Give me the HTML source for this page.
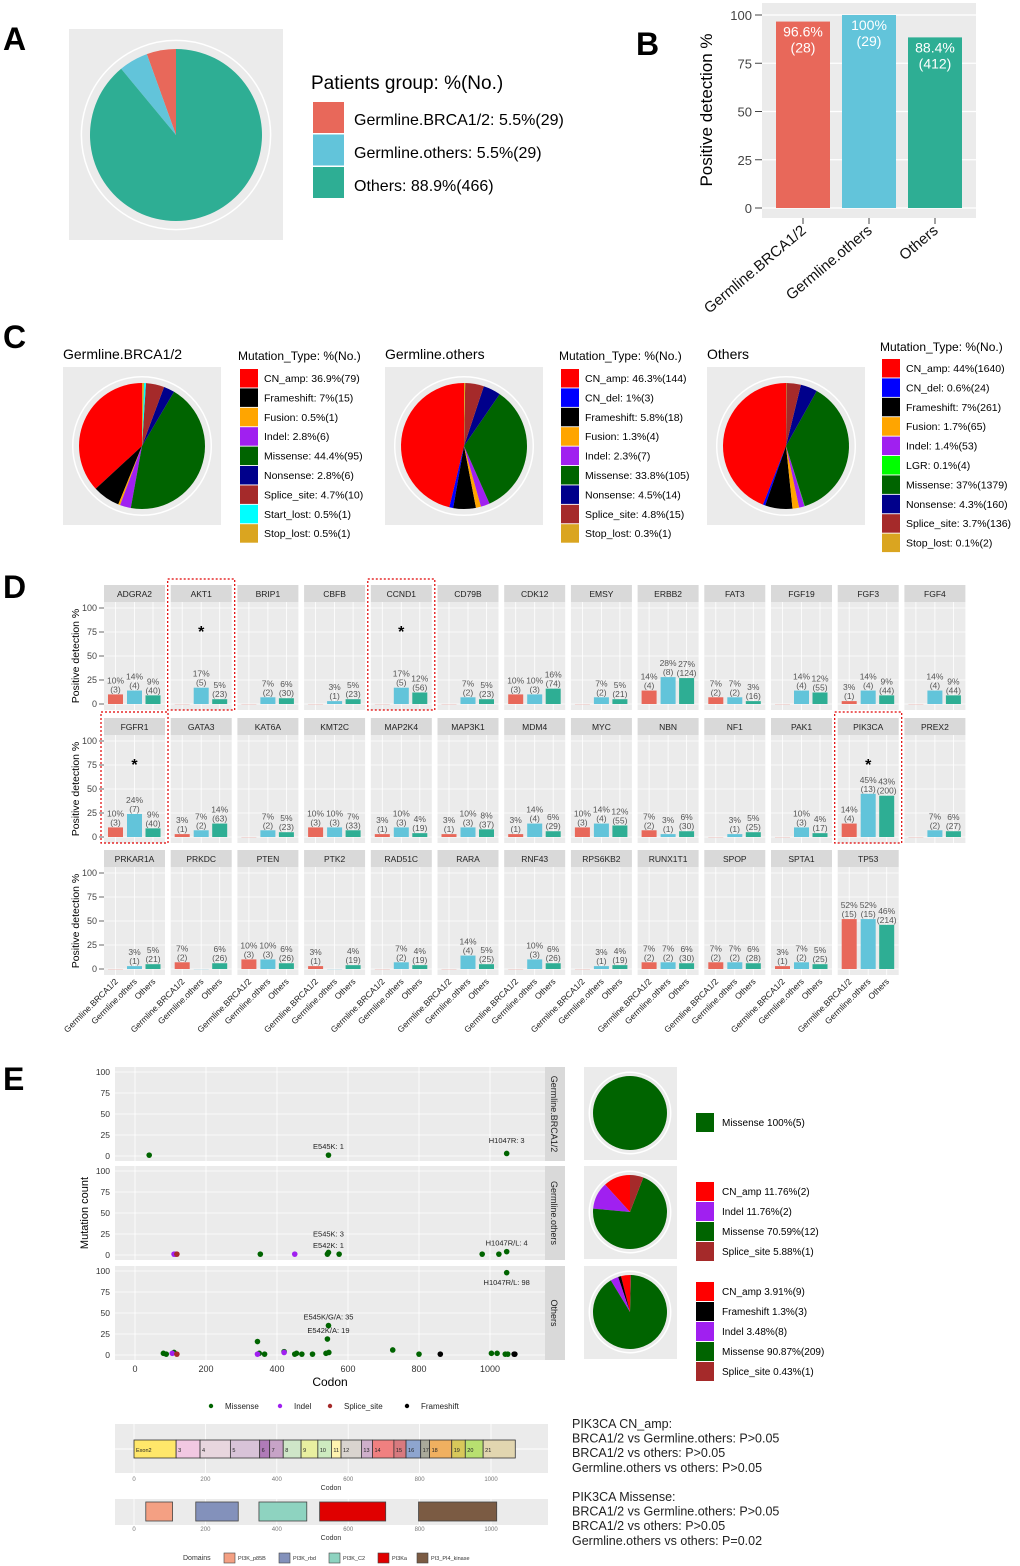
<!DOCTYPE html>
<html><head><meta charset="utf-8"><style>
html,body{margin:0;padding:0;background:#fff}
svg{display:block;font-family:"Liberation Sans",sans-serif}
</style></head><body>
<svg id="fig" width="1020" height="1566" viewBox="0 0 1020 1566" xmlns="http://www.w3.org/2000/svg"></svg>
<script>
// ---------- DATA ----------
const groupNames=["Germline.BRCA1/2","Germline.others","Others"];
const groupColors=["#E8685A","#62C4DA","#2EAE94"];
const pieAValues=[5.5,5.5,88.9];
const pieALabels=["Germline.BRCA1/2: 5.5%(29)","Germline.others: 5.5%(29)","Others: 88.9%(466)"];
const barBValues=[96.6,100,88.4];
const barBCounts=["(28)","(29)","(412)"];
const yTicks=[0,25,50,75,100];
const mutColors={CN_amp:"#FF0000",CN_del:"#0000FF",Frameshift:"#000000",Fusion:"#FFA500",Indel:"#A020F0",LGR:"#00FF00",Missense:"#006400",Nonsense:"#00008B",Splice_site:"#A52A2A",Start_lost:"#00FFFF",Stop_lost:"#DAA520"};
const c1Types=["CN_amp","Frameshift","Fusion","Indel","Missense","Nonsense","Splice_site","Start_lost","Stop_lost"];
const c1Values=[36.9,7,0.5,2.8,44.4,2.8,4.7,0.5,0.5];
const c1Counts=[79,15,1,6,95,6,10,1,1];
const c2Types=["CN_amp","CN_del","Frameshift","Fusion","Indel","Missense","Nonsense","Splice_site","Stop_lost"];
const c2Values=[46.3,1,5.8,1.3,2.3,33.8,4.5,4.8,0.3];
const c2Counts=[144,3,18,4,7,105,14,15,1];
const c3Types=["CN_amp","CN_del","Frameshift","Fusion","Indel","LGR","Missense","Nonsense","Splice_site","Stop_lost"];
const c3Values=[44,0.6,7,1.7,1.4,0.1,37,4.3,3.7,0.1];
const c3Counts=[1640,24,261,65,53,4,1379,160,136,2];
const dGenes=[["ADGRA2","AKT1","BRIP1","CBFB","CCND1","CD79B","CDK12","EMSY","ERBB2","FAT3","FGF19","FGF3","FGF4"],
["FGFR1","GATA3","KAT6A","KMT2C","MAP2K4","MAP3K1","MDM4","MYC","NBN","NF1","PAK1","PIK3CA","PREX2"],
["PRKAR1A","PRKDC","PTEN","PTK2","RAD51C","RARA","RNF43","RPS6KB2","RUNX1T1","SPOP","SPTA1","TP53"]];
const dPct=[[[10,14,9],[0,17,5],[0,7,6],[0,3,5],[0,17,12],[0,7,5],[10,10,16],[0,7,5],[14,28,27],[7,7,3],[0,14,12],[3,14,9],[0,14,9]],
[[10,24,9],[3,7,14],[0,7,5],[10,10,7],[3,10,4],[3,10,8],[3,14,6],[10,14,12],[7,3,6],[0,3,5],[0,10,4],[14,45,43],[0,7,6]],
[[0,3,5],[7,0,6],[10,10,6],[3,0,4],[0,7,4],[0,14,5],[0,10,6],[0,3,4],[7,7,6],[7,7,6],[3,7,5],[52,52,46]]];
const dCnt=[[[3,4,40],[0,5,23],[0,2,30],[0,1,23],[0,5,56],[0,2,23],[3,3,74],[0,2,21],[4,8,124],[2,2,16],[0,4,55],[1,4,44],[0,4,44]],
[[3,7,40],[1,2,63],[0,2,23],[3,3,33],[1,3,19],[1,3,37],[1,4,29],[3,4,55],[2,1,30],[0,1,25],[0,3,17],[4,13,200],[0,2,27]],
[[0,1,21],[2,0,26],[3,3,26],[1,0,19],[0,2,19],[0,4,25],[0,3,26],[0,1,19],[2,2,30],[2,2,28],[1,2,25],[15,15,214]]];
const dHighlight=[[0,1],[0,4],[1,0],[1,11]];
const eFacets=["Germline.BRCA1/2","Germline.others","Others"];
const eCodon=[[40,545,1047],
[110,113,118,353,450,542,545,575,978,1025,1047],
[80,88,110,345,350,365,420,450,455,470,500,538,542,545,546,726,800,1004,1020,1043,1047,1050,105,345,420,118,860,1068,1070]];
const eCount=[[1,1,3],
[1,1,1,1,1,1,3,1,1,1,4],
[2,1,3,16,2,1,4,1,2,1,1,2,19,35,3,6,1,2,2,1,98,1,2,1,3,1,1,1,1]];
const eType=[["Missense","Missense","Missense"],
["Indel","Indel","Splice_site","Missense","Indel","Missense","Missense","Missense","Missense","Missense","Missense"],
["Missense","Missense","Missense","Missense","Missense","Missense","Missense","Missense","Missense","Missense","Missense","Missense","Missense","Missense","Missense","Missense","Missense","Missense","Missense","Missense","Missense","Missense","Indel","Indel","Indel","Splice_site","Frameshift","Frameshift","Frameshift"]];
const eLabels=[[["E545K: 1",545,1,0]],[["E545K: 3",545,3,1],["E542K: 1",545,1,0],["H1047R/L: 4",1047,4,0]],[["E545K/G/A: 35",545,35,0],["E542K/A: 19",545,19,0]]];
const eLabelsExtra=[["H1047R: 3",1047,3],["H1047R/L: 98",1047,98]];
const ePieTypes=[["Missense"],["CN_amp","Indel","Missense","Splice_site"],["CN_amp","Frameshift","Indel","Missense","Splice_site"]];
const ePieValues=[[100],[11.76,11.76,70.59,5.88],[3.91,1.3,3.48,90.87,0.43]];
const ePieCounts=[[5],[2,2,12,1],[9,3,8,209,1]];
const exonNames=["Exon2","3","4","5","6","7","8","9","10","11","12","13","14","15","16","17","18","19","20","21"];
const exonStarts=[0,118,185,270,352,380,418,468,515,553,580,637,668,728,762,803,828,890,928,978];
const exonEnds=[118,185,270,352,380,418,468,515,553,580,637,668,728,762,803,828,890,928,978,1068];
const exonColors=["#FFE76A","#F2C8E2","#E8D6DE","#D8C3D8","#B07BB8","#C7A3C7","#CFE6C8","#E8F0A0","#CDEBC0","#FFF3B0","#D9D4CF","#CFAFCB","#F08080","#D87A7F","#8EA5CF","#A9A99A","#F0B060","#D8C85A","#B8E070","#E2D6B0"];
const domNames=["PI3K_p85B","PI3K_rbd","PI3K_C2","PI3Ka","PI3_PI4_kinase"];
const domStarts=[33,173,350,520,797];
const domEnds=[108,292,484,705,1016];
const domColors=["#F4A083","#8391BB","#8ED3C0","#E00000","#7B5B43"];
const codonTicks=[0,200,400,600,800,1000];

// ---------- HELPERS ----------
const NS="http://www.w3.org/2000/svg";
const svg=document.getElementById("fig");
function mk(tag,attrs,name,parent,text){
  const el=document.createElementNS(NS,tag);
  for(const k in attrs) el.setAttribute(k,attrs[k]);
  
  
  if(text!==undefined) el.textContent=text;
  (parent||svg).appendChild(el);
  return el;
}
function T(x,y,s,size,name,extra){
  const a=Object.assign({x:x,y:y,"font-size":size,fill:"#000"},extra||{});
  return mk("text",a,name,null,s);
}
function pie(cx,cy,r,vals,cols,name){
  const tot=vals.reduce((a,b)=>a+b,0);
  let acc=0;
  vals.forEach((v,i)=>{
    const a0=acc/tot*2*Math.PI; acc+=v; const a1=acc/tot*2*Math.PI;
    const x0=cx-r*Math.sin(a0),y0=cy-r*Math.cos(a0),x1=cx-r*Math.sin(a1),y1=cy-r*Math.cos(a1);
    const large=(a1-a0)>Math.PI?1:0;
    let d;
    if(v/tot>0.9999) d=`M${cx-r},${cy}a${r},${r} 0 1,0 ${2*r},0a${r},${r} 0 1,0 ${-2*r},0`;
    else d=`M${cx},${cy}L${x0},${y0}A${r},${r} 0 ${large},0 ${x1},${y1}Z`;
    mk("path",{d:d,fill:cols[i]},name+"-slice-"+i);
  });
}
function pieBg(x,y,w,h,cx,cy,r,name){
  mk("rect",{x:x,y:y,width:w,height:h,fill:"#EBEBEB"},name+"-background");
  mk("circle",{cx:cx,cy:cy,r:r*1.1,fill:"none",stroke:"#fff","stroke-width":1.5},name+"-outer-ring");
}

// ---------- PANEL A ----------
T(3,50,"A",32,"panel-a-label",{"font-weight":"bold"});
pieBg(69,29,214,211,176,135,86,"pie-a");
pie(176,135,86,pieAValues,groupColors,"pie-a");
T(311,89,"Patients group: %(No.)",19,"pie-a-legend-title");
pieALabels.forEach((l,i)=>{
  mk("rect",{x:313,y:102+i*32.5,width:31,height:31,fill:groupColors[i]},"pie-a-legend-key");
  T(354,125+i*33,l,16,"pie-a-legend-entry");
});

// ---------- PANEL B ----------
T(636,55,"B",32,"panel-b-label",{"font-weight":"bold"});
{
 const px0=762,px1=976,py0=3,py1=218,yb=208,yt=15;
 const yS=v=>yb-(yb-yt)*v/100;
 mk("rect",{x:px0,y:py0,width:px1-px0,height:py1-py0,fill:"#EBEBEB"},"bar-b-background");
 yTicks.forEach(t=>{mk("line",{x1:px0,x2:px1,y1:yS(t),y2:yS(t),stroke:"#fff","stroke-width":1.2},"bar-b-gridline");
   T(752,yS(t)+5,String(t),13,"bar-b-y-tick",{"text-anchor":"end",fill:"#444"});
   mk("line",{x1:755,x2:762,y1:yS(t),y2:yS(t),stroke:"#444"},"bar-b-y-tickmark");});
 const cx=[803,869,935];
 barBValues.forEach((v,i)=>{
  mk("rect",{x:cx[i]-27,y:yS(v),width:54,height:yb-yS(v),fill:groupColors[i]},"bar-b-"+i);
  T(cx[i],yS(v)+15,(v===100?"100":v)+"%",14,"bar-b-value",{"text-anchor":"middle",fill:"#fff"});
  T(cx[i],yS(v)+31,barBCounts[i],14,"bar-b-count",{"text-anchor":"middle",fill:"#fff"});
  mk("line",{x1:cx[i],x2:cx[i],y1:218,y2:224,stroke:"#444"},"bar-b-x-tickmark");
  T(cx[i]+4,232,groupNames[i],15,"bar-b-x-label",{"text-anchor":"end",transform:`rotate(-40 ${cx[i]+4} 232)`,fill:"#111"});
 });
 T(0,0,"Positive detection %",17,"bar-b-y-title",{"text-anchor":"middle",transform:"translate(712,110) rotate(-90)"});
}

// ---------- PANEL C ----------
T(3,348,"C",32,"panel-c-label",{"font-weight":"bold"});
const cSets=[[c1Types,c1Values,c1Counts,63,238,356,378],[c2Types,c2Values,c2Counts,385,559,356,378],[c3Types,c3Values,c3Counts,707,880,347,368]];
cSets.forEach((s,g)=>{
 const [types,vals,cnts,bx,lx,ty,ry]=s;
 T(bx,359,groupNames[g]==="Others"?"Others":groupNames[g],14,"pie-c-title");
 pieBg(bx,367,158,158,bx+79,446,63,"pie-c"+g);
 pie(bx+79,446,63,vals,types.map(t=>mutColors[t]),"pie-c"+g);
 T(lx,ty+4,"Mutation_Type: %(No.)",12,"pie-c-legend-title");
 types.forEach((t,i)=>{
  mk("rect",{x:lx+2,y:ry-9+i*19.4,width:18,height:18.5,fill:mutColors[t]},"pie-c-legend-key");
  T(lx+26,ry+4+i*19.4,`${t}: ${vals[i]}%(${cnts[i]})`,10.5,"pie-c-legend-entry");
 });
});

// ---------- PANEL D ----------
T(3,598,"D",32,"panel-d-label",{"font-weight":"bold"});
{
 const colX=c=>104+c*66.7, pw=61;
 const rowTop=[585,718,850];
 dGenes.forEach((genes,r)=>{
  const st=rowTop[r], p0=st+17, p1=p0+108, y0=p1-6, y100=p0+6;
  const yS=v=>y0-(y0-y100)*v/100;
  yTicks.forEach(t=>{T(97,yS(t)+3,String(t),9,"d-y-tick",{"text-anchor":"end",fill:"#444"});
    mk("line",{x1:99,x2:104,y1:yS(t),y2:yS(t),stroke:"#444","stroke-width":0.8},"d-y-tickmark");});
  T(0,0,"Positive detection %",10.5,"d-y-title",{"text-anchor":"middle",transform:`translate(79,${(p0+p1)/2}) rotate(-90)`});
  genes.forEach((g,c)=>{
   const x=colX(c);
   mk("rect",{x:x,y:st,width:pw,height:17,fill:"#D9D9D9"},"d-strip");
   T(x+pw/2,st+12,g,8.5,"d-strip-label",{"text-anchor":"middle",fill:"#222"});
   mk("rect",{x:x,y:p0,width:pw,height:p1-p0,fill:"#EBEBEB"},"d-panel-bg");
   yTicks.forEach(t=>mk("line",{x1:x,x2:x+pw,y1:yS(t),y2:yS(t),stroke:"#fff","stroke-width":0.8},"d-gridline"));
   [11.5,30.5,49].forEach(o=>mk("line",{x1:x+o,x2:x+o,y1:p0,y2:p1,stroke:"#fff","stroke-width":0.8},"d-gridline-v"));
   dPct[r][c].forEach((v,k)=>{
    const bx=x+[11.5,30.5,49][k];
    mk("rect",{x:bx-7.5,y:yS(v),width:15,height:Math.max(y0-yS(v),0.6),fill:groupColors[k],opacity:v===0?0.3:1},"d-bar");
    if(v>0){
     T(bx,yS(v)-11,v+"%",8.5,"d-bar-pct",{"text-anchor":"middle",fill:"#555"});
     T(bx,yS(v)-2,"("+dCnt[r][c][k]+")",8.5,"d-bar-count",{"text-anchor":"middle",fill:"#555"});
    }
    if(r===2){
     T(bx+3,982,groupNames[k],8.5,"d-x-label",{"text-anchor":"end",transform:`rotate(-45 ${bx+3} 982)`,fill:"#222"});
    }
   });
  });
 });
 dHighlight.forEach(([r,c])=>{
  const x=colX(c);
  mk("rect",{x:x-3,y:rowTop[r]-6,width:pw+6,height:131,fill:"none",stroke:"#E00000","stroke-width":1.2,"stroke-dasharray":"2,2"},"d-highlight-box");
  T(x+pw/2,rowTop[r]+52,"*",16,"d-significance-star",{"text-anchor":"middle","font-weight":"bold"});
 });
}

// ---------- PANEL E ----------
T(3,1090,"E",32,"panel-e-label",{"font-weight":"bold"});
{
 const xS=c=>135+c*0.355;
 const tops=[1067,1166,1266];
 eFacets.forEach((f,i)=>{
  const top=tops[i], bot=top+94, y0=top+89, y100=top+5;
  const yS=v=>y0-(y0-y100)*v/100;
  mk("rect",{x:115,y:top,width:430,height:94,fill:"#EBEBEB"},"e-facet-bg");
  mk("rect",{x:545,y:top,width:20,height:94,fill:"#D9D9D9"},"e-facet-strip");
  T(0,0,f,9,"e-facet-label",{"text-anchor":"middle",transform:`translate(551,${top+47}) rotate(90)`,fill:"#222"});
  yTicks.forEach(t=>{mk("line",{x1:115,x2:545,y1:yS(t),y2:yS(t),stroke:"#fff","stroke-width":0.8},"e-gridline");
   T(110,yS(t)+3,String(t),8.5,"e-y-tick",{"text-anchor":"end",fill:"#333"});});
  codonTicks.forEach(t=>mk("line",{x1:xS(t),x2:xS(t),y1:top,y2:bot,stroke:"#fff","stroke-width":0.8},"e-gridline-v"));
  eCodon[i].forEach((c,k)=>{
   mk("circle",{cx:xS(c),cy:yS(eCount[i][k]),r:2.8,fill:mutColors[eType[i][k]]},"e-point");
  });
  eLabels[i].forEach(l=>{
   T(xS(l[1]),yS(l[2])-6-l[3]*10,l[0],7.5,"e-point-label",{"text-anchor":"middle",fill:"#222"});
  });
  // pie
  const pcx=630, pcy=top+46;
  pieBg(584,top,93,93,pcx,pcy,37,"e-pie"+i);
  pie(pcx,pcy,37,ePieValues[i],ePieTypes[i].map(t=>mutColors[t]),"e-pie"+i);
  const n=ePieTypes[i].length, ly=i===0?1113:top+16;
  ePieTypes[i].forEach((t,k)=>{
   mk("rect",{x:696,y:ly+k*20,width:18,height:19,fill:mutColors[t]},"e-pie-legend-key");
   T(722,ly+k*20+13,`${t} ${ePieValues[i][k]}%(${ePieCounts[i][k]})`,10,"e-pie-legend-entry");
  });
 });
 T(xS(eLabelsExtra[0][1]),1143,eLabelsExtra[0][0],7.5,"e-point-label",{"text-anchor":"middle",fill:"#222"});
 T(xS(eLabelsExtra[1][1]),1285,eLabelsExtra[1][0],7.5,"e-point-label",{"text-anchor":"middle",fill:"#222"});
 codonTicks.forEach(t=>T(xS(t),1372,String(t),9,"e-x-tick",{"text-anchor":"middle",fill:"#333"}));
 T(330,1386,"Codon",12,"e-x-title",{"text-anchor":"middle"});
 T(0,0,"Mutation count",11,"e-y-title",{"text-anchor":"middle",transform:"translate(88,1213) rotate(-90)"});
 const legItems=[["Missense",201],["Indel",270],["Splice_site",320],["Frameshift",397]];
 legItems.forEach(([t,x])=>{
  mk("rect",{x:x-60/3-0,y:1400,width:0,height:0,fill:"none"},"e-legend-spacer");
  mk("circle",{cx:x+10,cy:1406,r:2.2,fill:mutColors[t]},"e-legend-key");
  T(x+24,1409,t,8,"e-legend-label",{fill:"#222"});
 });
 // exon bar
 const xE=c=>134+c*0.357;
 mk("rect",{x:115,y:1424,width:433,height:49,fill:"#EBEBEB"},"exon-bg");
 codonTicks.forEach(t=>{mk("line",{x1:xE(t),x2:xE(t),y1:1424,y2:1473,stroke:"#fff","stroke-width":0.8},"exon-gridline");
   T(xE(t),1481,String(t),6,"exon-x-tick",{"text-anchor":"middle",fill:"#777"});
   mk("line",{x1:115,x2:548,y1:1449,y2:1449,stroke:"#fff","stroke-width":0.8},"exon-gridline-h");});
 exonNames.forEach((n,i)=>{
  mk("rect",{x:xE(exonStarts[i]),y:1440,width:xE(exonEnds[i])-xE(exonStarts[i]),height:18,fill:exonColors[i],stroke:"#333","stroke-width":0.8},"exon-segment");
  T(xE(exonStarts[i])+2,1452,n,5.5,"exon-label",{fill:"#222"});
 });
 T(331,1490,"Codon",7,"exon-x-title",{"text-anchor":"middle",fill:"#333"});
 mk("rect",{x:115,y:1499,width:433,height:26,fill:"#EBEBEB"},"domain-bg");
 codonTicks.forEach(t=>{mk("line",{x1:xE(t),x2:xE(t),y1:1499,y2:1525,stroke:"#fff","stroke-width":0.8},"domain-gridline");
   T(xE(t),1531,String(t),6,"domain-x-tick",{"text-anchor":"middle",fill:"#777"});});
 domNames.forEach((n,i)=>{
  mk("rect",{x:xE(domStarts[i]),y:1502,width:xE(domEnds[i])-xE(domStarts[i]),height:19,fill:domColors[i],stroke:"#444","stroke-width":0.8},"domain-segment");
 });
 T(331,1540,"Codon",7,"domain-x-title",{"text-anchor":"middle",fill:"#333"});
 T(183,1560,"Domains",7,"domain-legend-title",{fill:"#333"});
 const dlx=[224,279,329,378,417];
 domNames.forEach((n,i)=>{
  mk("rect",{x:dlx[i],y:1553,width:11,height:10,fill:domColors[i],stroke:"#444","stroke-width":0.6},"domain-legend-key");
  T(dlx[i]+14,1560,n,5.5,"domain-legend-label",{fill:"#333"});
 });
}
// stats text
const statLines=["PIK3CA CN_amp:","BRCA1/2 vs Germline.others: P>0.05","BRCA1/2 vs others: P>0.05","Germline.others vs others: P>0.05","","PIK3CA Missense:","BRCA1/2 vs Germline.others: P>0.05","BRCA1/2 vs others: P>0.05","Germline.others vs others: P=0.02"];
statLines.forEach((s,i)=>{ if(s) T(572,1428+i*14.6,s,12.5,"stats-text-line",{fill:"#222"}); });
</script>
</body></html>
